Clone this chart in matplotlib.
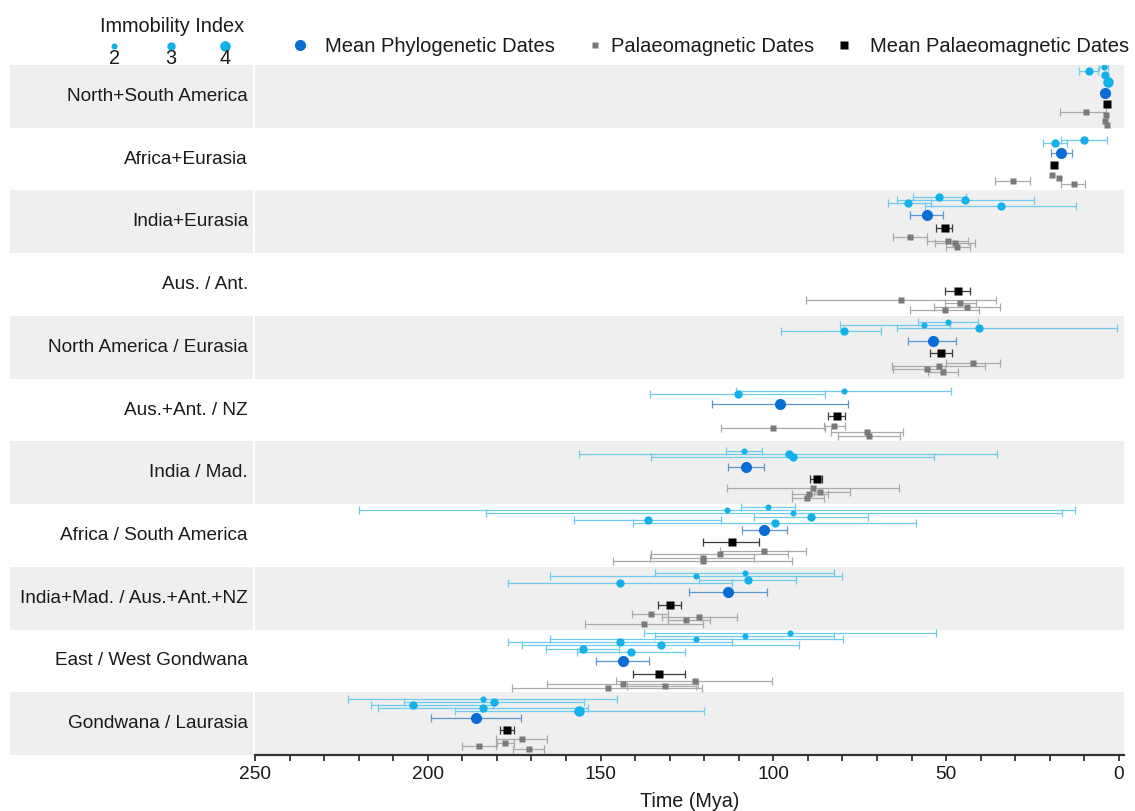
import numpy as np
import matplotlib
matplotlib.use('Agg')
import matplotlib.pyplot as plt
from matplotlib.patches import Rectangle
import matplotlib.transforms as mtransforms

plt.rcParams['font.family'] = ['Liberation Sans', 'DejaVu Sans']

# ---------------- data ----------------
rows = ["North+South America", "Africa+Eurasia", "India+Eurasia", "Aus. / Ant.",
        "North America / Eurasia", "Aus.+Ant. / NZ", "India / Mad.",
        "Africa / South America", "India+Mad. / Aus.+Ant.+NZ",
        "East / West Gondwana", "Gondwana / Laurasia"]

# Phylogenetic dates (coloured by immobility index); slot = vertical jitter (px from row top)
phylo_row   = [0, 0, 0, 0,
               1, 1,
               2, 2, 2, 2,
               4, 4, 4, 4,
               5, 5,
               6, 6, 6,
               7, 7, 7, 7, 7, 7,
               8, 8, 8, 8,
               9, 9, 9, 9, 9, 9, 9,
               10, 10, 10, 10, 10]
phylo_date  = [4.4, 8.5, 3.9, 3.1,
               10.2, 18.4,
               51.9, 44.4, 60.9, 34.1,
               49.4, 56.4, 40.5, 79.4,
               79.4, 110.3,
               108.4, 95.5, 94.3,
               101.4, 113.3, 94.3, 89.2, 136.4, 99.4,
               108.3, 122.3, 107.4, 144.3,
               95.3, 108.3, 122.3, 144.3, 132.4, 155.2, 141.2,
               184.1, 180.8, 204.3, 184.1, 156.2]
phylo_old   = [5.8, 11.1, np.nan, np.nan,
               16.9, 21.9,
               59.6, 64.2, 67.3, 55.7,
               58.0, 63.8, 80.6, 89.9,
               110.2, 135.6,
               113.4, 155.7, 135.1,
               109.1, 213.8, 172.2, 105.7, 157.6, 140.2,
               134.2, 164.6, 121.4, 176.7,
               137.6, 134.2, 164.8, 176.7, 172.3, 165.8, 156.9,
               223.0, 206.8, 227.5, 214.5, 192.3]
phylo_young = [3.0, 5.6, np.nan, np.nan,
               3.6, 15.0,
               44.2, 24.7, 55.1, 12.1,
               40.8, 32.1, 16.9, 60.9,
               48.1, 84.8,
               103.1, 34.8, 53.3,
               93.5, 6.8, 5.4, 72.7, 115.1, 58.2,
               82.3, 80.0, 93.2, 111.7,
               53.1, 82.3, 79.9, 111.7, 92.0, 144.5, 125.7,
               145.0, 154.7, 192.3, 153.7, 120.2]
phylo_index = [2, 3, 3, 4,
               3, 3,
               3, 3, 3, 3,
               2, 2, 3, 3,
               2, 3,
               2, 3, 3,
               2, 2, 2, 3, 3, 3,
               2, 2, 3, 3,
               2, 2, 2, 3, 3, 3, 3,
               2, 3, 3, 3, 4]
phylo_slot  = [2, 6, 9.5, 17,
               12.3, 15.6,
               6.3, 9.6, 12.3, 15.6,
               6.2, 9.5, 12.2, 15.5,
               12.2, 15.5,
               9.5, 12.8, 15.5,
               2.8, 6.1, 9.4, 12.8, 16.1, 18.8,
               6.1, 9.4, 12.7, 16.1,
               3, 6.4, 9.7, 12.4, 15.7, 19, 22.4,
               7, 9.7, 13, 15.7, 19]

# Mean phylogenetic dates
mphylo_row   = [0, 1, 2, 4, 5, 6, 7, 8, 9, 10]
mphylo_date  = [4.1, 16.6, 55.5, 53.8, 98.0, 107.9, 102.6, 113.0, 143.5, 186.0]
mphylo_old   = [np.nan, 19.6, 60.1, 60.6, 117.5, 113.1, 109.3, 124.1, 150.9, 199.0]
mphylo_young = [np.nan, 13.6, 50.7, 46.6, 78.2, 102.8, 96.1, 101.7, 135.6, 172.8]
mphylo_slot  = [28, 25, 24.9, 24.9, 25.5, 25.5, 25.4, 25.1, 31.7, 25.7]

# Mean palaeomagnetic dates
mpalaeo_row   = [0, 1, 2, 3, 4, 5, 6, 7, 8, 9, 10]
mpalaeo_date  = [3.4, 18.9, 50.4, 46.6, 51.4, 81.6, 87.4, 112.0, 129.9, 133.0, 177.1]
mpalaeo_old   = [np.nan, np.nan, 52.6, 50.2, 54.4, 84.0, 88.8, 120.0, 133.2, 140.5, 179.1]
mpalaeo_young = [np.nan, np.nan, 48.0, 42.8, 48.1, 78.9, 85.5, 103.8, 126.5, 125.5, 175.2]
mpalaeo_slot  = [39, 37.3, 37.9, 37.6, 37.5, 37.5, 37.8, 37.8, 37.7, 44, 38]

# Palaeomagnetic dates
palaeo_row   = [0, 0, 0, 0, 1, 1, 1, 1, 2, 2, 2, 2, 3, 3, 3, 3, 4, 4, 4, 4,
                5, 5, 5, 5, 6, 6, 6, 6, 7, 7, 7, 7, 8, 8, 8, 8, 9, 9, 9, 9,
                10, 10, 10, 10]
palaeo_date  = [9.5, 3.6, 3.9, 3.3,
                19.2, 17.4, 30.5, 13.1,
                60.4, 49.5, 47.3, 46.8,
                62.9, 45.9, 43.9, 50.4,
                42.1, 52.0, 55.4, 50.9,
                82.3, 100.2, 72.9, 72.3,
                88.4, 86.4, 89.8, 90.3,
                102.8, 115.4, 120.4, 120.4,
                135.4, 121.4, 125.3, 137.3,
                122.8, 143.4, 131.3, 147.9,
                172.8, 177.6, 185.2, 170.8]
palaeo_old   = [15.2, np.nan, np.nan, np.nan,
                np.nan, np.nan, 35.3, 16.4,
                65.4, 55.4, 53.1, 50.4,
                90.3, 50.4, 53.4, 60.4,
                49.7, 65.4, 60.4, 55.4,
                85.3, 115.4, 83.2, 81.4,
                113.3, 95.1, 95.3, 95.3,
                115.1, 135.2, 135.2, 146.3,
                140.2, 132.3, 132.3, 154.3,
                145.3, 165.1, 140.2, 175.2,
                180.2, 180.2, 190.2, 175.2]
palaeo_young = [2.0, np.nan, np.nan, np.nan,
                np.nan, np.nan, 25.3, 9.4,
                55.4, 43.5, 41.3, 43.5,
                35.3, 41.5, 34.3, 40.3,
                34.3, 38.4, 45.4, 46.5,
                79.4, 85.3, 62.5, 63.3,
                63.3, 84.5, 85.0, 86.0,
                90.3, 95.3, 105.2, 94.3,
                129.9, 110.5, 120.2, 120.2,
                100.2, 121.2, 120.2, 120.2,
                165.3, 175.2, 180.2, 166.3]
palaeo_slot  = [47, 50, 56, 60,
                47.3, 50, 53, 56.3,
                46.9, 50.3, 52.9, 56.9,
                46.9, 50.2, 53.6, 56.9,
                46.9, 50.2, 53.5, 56.5,
                47.2, 49.8, 53.8, 57.2,
                47.1, 50.5, 53.1, 57.1,
                47.1, 50.1, 53.4, 56.8,
                46.7, 50.1, 53.4, 56.7,
                51.4, 54, 56, 58.4,
                47, 50.3, 53.7, 56.3]

x_major = [250, 200, 150, 100, 50, 0]

# ---------------- style ----------------
W, H = 1135, 811
ROW_H = 62.7
CYAN = '#12b1ea'
CYAN_ERR = '#6fcbec'
DBLUE = '#0a6dd6'
DBLUE_ERR = '#5b95cc'
GREY = '#7a7a7a'
GREY_ERR = '#a9a9a9'
BLACK = '#000000'
BLACK_ERR = '#3a3a3a'
BAND = '#efefef'
TXT = '#1a1a1a'
idx_size = {2: 4.4, 3: 6.0, 4: 7.6}

fig = plt.figure(figsize=(W / 100, H / 100), dpi=100)
ax = fig.add_axes([255 / W, 56 / H, 869 / W, 690 / H])
ax.set_xlim(250, -1.5)
ax.set_ylim(len(rows) * ROW_H, 0)

# bands in plot and label area
blend = mtransforms.blended_transform_factory(fig.transFigure, ax.transData)
for i in range(len(rows)):
    if i % 2 == 0:
        ax.axhspan(i * ROW_H, (i + 1) * ROW_H, color=BAND, zorder=0, lw=0)
        fig.patches.append(Rectangle((10 / W, i * ROW_H), 242.5 / W, ROW_H,
                                     transform=blend, color=BAND, lw=0, zorder=0))
    fig.text(248 / W, (i + 0.5) * ROW_H, rows[i], ha='right', va='center',
             fontsize=13.7, color=TXT, transform=blend)


def draw(row, date, old, young, slot, color, ecolor, marker, ms, lw=0.9, z=3):
    for r, d, o, yg, s, m in zip(row, date, old, young, slot, ms):
        y = r * ROW_H + s
        if not (np.isnan(o) or np.isnan(yg)):
            ax.errorbar([d], [y], xerr=[[o - d], [d - yg]], fmt='none',
                        ecolor=ecolor, elinewidth=lw, capsize=2.6,
                        capthick=lw, zorder=z)
        ax.plot([d], [y], marker=marker, ms=m, color=color, mec='none',
                ls='none', zorder=z + 1)


draw(palaeo_row, palaeo_date, palaeo_old, palaeo_young, palaeo_slot,
     GREY, GREY_ERR, 's', [4.4] * len(palaeo_row), z=2)
draw(phylo_row, phylo_date, phylo_old, phylo_young, phylo_slot,
     CYAN, CYAN_ERR, 'o', [idx_size[k] for k in phylo_index], z=4)
draw(mphylo_row, mphylo_date, mphylo_old, mphylo_young, mphylo_slot,
     DBLUE, DBLUE_ERR, 'o', [8.0] * len(mphylo_row), z=6)
draw(mpalaeo_row, mpalaeo_date, mpalaeo_old, mpalaeo_young, mpalaeo_slot,
     BLACK, BLACK_ERR, 's', [6.0] * len(mpalaeo_row), z=6)

# axes styling
for sp in ['top', 'right', 'left']:
    ax.spines[sp].set_visible(False)
ax.spines['bottom'].set_color('#333333')
ax.spines['bottom'].set_linewidth(1.6)
ax.set_yticks([])
ax.set_xticks(x_major)
ax.set_xticklabels([str(v) for v in x_major], fontsize=13.8, color=TXT)
ax.set_xticks(np.arange(0, 251, 10), minor=True)
ax.tick_params(axis='x', which='both', direction='out', length=4,
               width=1.3, color='#333333', pad=4)
ax.set_xlabel('Time (Mya)', fontsize=14.2, color=TXT)
ax.xaxis.set_label_coords(0.5, -0.068)
ax.xaxis.label.set_va('center')

# legend (overlay in pixel coordinates)
lg = fig.add_axes([0, 0, 1, 1], zorder=10)
lg.set_xlim(0, W)
lg.set_ylim(H, 0)
lg.axis('off')
lg.text(172, 27, 'Immobility Index', ha='center', va='center', fontsize=14.3,
        color=TXT)
for xk, k in zip([114, 171, 225], [2, 3, 4]):
    lg.plot([xk], [46], 'o', ms=idx_size[k], color=CYAN, mec='none')
    lg.text(xk, 58, str(k), ha='center', va='center', fontsize=14.3,
            color=TXT)
lg.plot([300], [45], 'o', ms=8.0, color=DBLUE, mec='none')
lg.text(325, 46, 'Mean Phylogenetic Dates', ha='left', va='center',
        fontsize=14.5, color=TXT)
lg.plot([595], [45], 's', ms=4.4, color=GREY, mec='none')
lg.text(611, 46, 'Palaeomagnetic Dates', ha='left', va='center',
        fontsize=14.5, color=TXT)
lg.plot([844], [45], 's', ms=6.0, color=BLACK, mec='none')
lg.text(870, 46, 'Mean Palaeomagnetic Dates', ha='left', va='center',
        fontsize=14.5, color=TXT)

fig.savefig('out.png', dpi=100)
